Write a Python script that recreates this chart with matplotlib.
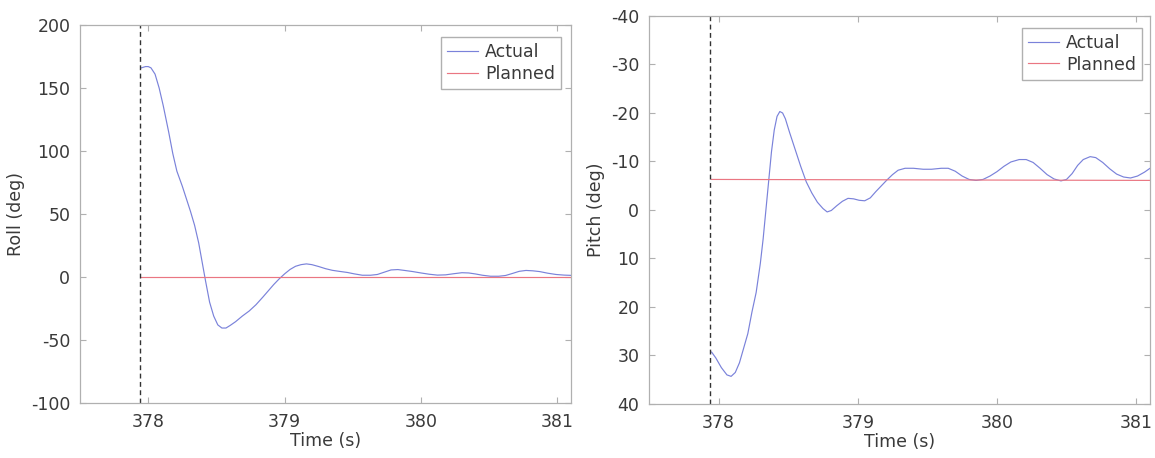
import matplotlib
matplotlib.use("Agg")
import matplotlib.pyplot as plt

# roll response (deg) vs time (s)
roll_t = [377.95, 377.98, 378.00, 378.02, 378.05, 378.08, 378.11, 378.15, 378.18,
          378.21, 378.25, 378.28, 378.31, 378.34, 378.37, 378.40, 378.42, 378.45,
          378.48, 378.51, 378.54, 378.57, 378.60, 378.64, 378.69, 378.74, 378.79,
          378.84, 378.88, 378.92, 378.96, 379.00, 379.04, 379.08, 379.12, 379.16,
          379.20, 379.25, 379.30, 379.35, 379.40, 379.46, 379.51, 379.57, 379.63,
          379.68, 379.73, 379.78, 379.83, 379.88, 379.94, 380.00, 380.06, 380.12,
          380.18, 380.24, 380.30, 380.35, 380.40, 380.45, 380.51, 380.57, 380.62,
          380.67, 380.72, 380.77, 380.82, 380.87, 380.93, 380.99, 381.05, 381.10]
roll_v = [166, 167, 167, 166, 161, 150, 136, 115, 98,
          84, 72, 62, 52, 41, 27, 9, -3, -20,
          -31, -38, -40.5, -40.5, -38.5, -35.5, -31, -27, -22,
          -16, -11, -6, -1.5, 2.5, 6, 8.5, 9.8, 10.4,
          9.8, 8.3, 6.6, 5.3, 4.5, 3.6, 2.5, 1.4, 1.4,
          2, 3.8, 5.6, 5.9, 5.2, 4.3, 3.2, 2.2, 1.5,
          1.7, 2.6, 3.4, 3.2, 2.4, 1.4, 0.6, 0.6, 1.2,
          2.8, 4.5, 5.2, 4.9, 4.3, 3.0, 2.0, 1.5, 1.3]
roll_plan_t = [377.95, 381.1]
roll_plan_v = [0, 0]

# pitch response (deg)
pitch_t = [377.95, 377.98, 378.02, 378.06, 378.09, 378.12, 378.15, 378.18, 378.21,
           378.24, 378.27, 378.30, 378.32, 378.34, 378.36, 378.38, 378.40, 378.42,
           378.44, 378.46, 378.48, 378.51, 378.55, 378.59, 378.63, 378.67, 378.71,
           378.75, 378.78, 378.81, 378.85, 378.89, 378.93, 378.97, 379.01, 379.05,
           379.09, 379.13, 379.17, 379.21, 379.25, 379.29, 379.34, 379.40, 379.47,
           379.53, 379.60, 379.65, 379.70, 379.75, 379.80, 379.85, 379.90, 379.95,
           380.00, 380.05, 380.10, 380.16, 380.21, 380.26, 380.31, 380.36, 380.41,
           380.46, 380.50, 380.54, 380.58, 380.62, 380.67, 380.71, 380.76, 380.81,
           380.86, 380.91, 380.96, 381.01, 381.06, 381.11]
pitch_v = [29.3, 30.5, 32.5, 34, 34.3, 33.5, 31.5, 28.5, 25.5,
           21, 17, 11, 6, 0, -6, -12, -16.5, -19.3,
           -20.3, -20, -18.8, -16, -12.5, -9, -5.8, -3.5, -1.6,
           -0.3, 0.4, 0.1, -0.9, -1.8, -2.4, -2.3, -2.0, -1.9,
           -2.5, -3.8, -5.0, -6.2, -7.3, -8.2, -8.6, -8.6, -8.4,
           -8.4, -8.6, -8.6, -8.0, -7.0, -6.3, -6.1, -6.3, -7.0,
           -7.9, -9.0, -9.9, -10.4, -10.4, -9.8, -8.6, -7.3, -6.4,
           -6.0, -6.3, -7.5, -9.2, -10.4, -11.0, -10.8, -9.8, -8.5,
           -7.4, -6.8, -6.6, -7.0, -7.8, -8.8]
pitch_plan_t = [377.95, 381.11]
pitch_plan_v = [-6.3, -6.1]

t_start = 377.94
x_ticks = [378, 379, 380, 381]
roll_ticks = [-100, -50, 0, 50, 100, 150, 200]
pitch_ticks = [-40, -30, -20, -10, 0, 10, 20, 30, 40]

plt.rcParams['font.family'] = ['DejaVu Sans']
plt.rcParams['font.size'] = 12.5
plt.rcParams['axes.unicode_minus'] = False

txt = '#3a3a3a'
edge = '#b0b0b0'
blue = '#7a82da'
red = '#ea7682'

fig = plt.figure(figsize=(11.55, 4.58), dpi=100)
ax1 = fig.add_axes([0.0693, 0.1201, 0.4251, 0.8253])
ax2 = fig.add_axes([0.5619, 0.1179, 0.4338, 0.8472])


def style(ax):
    for s in ax.spines.values():
        s.set_color(edge)
        s.set_linewidth(0.9)
    ax.tick_params(direction='in', top=True, right=True, colors=edge,
                   labelcolor=txt, length=4, width=0.8, pad=7)
    ax.set_xlim(377.5, 381.1)
    ax.set_xticks(x_ticks)
    ax.set_xticklabels([str(x) for x in x_ticks])
    ax.set_xlabel('Time (s)', color=txt, labelpad=1)


def add_legend(ax, anchor):
    ax.legend(loc='upper right', bbox_to_anchor=anchor, borderaxespad=0,
              fancybox=False, edgecolor=edge, handlelength=1.8, labelcolor=txt,
              borderpad=0.35, labelspacing=0.2, handletextpad=0.4, framealpha=1)


ax1.plot(roll_t, roll_v, color=blue, lw=0.85, label='Actual')
ax1.plot(roll_plan_t, roll_plan_v, color=red, lw=0.85, label='Planned')
ax1.axvline(t_start, color='#333333', lw=1.0, ls=(0, (3.5, 2.5)))
ax1.set_ylim(-100, 200)
ax1.set_yticks(roll_ticks)
ax1.set_ylabel('Roll (deg)', color=txt, labelpad=4)
style(ax1)
add_legend(ax1, (0.98, 0.968))

ax2.plot(pitch_t, pitch_v, color=blue, lw=0.85, label='Actual')
ax2.plot(pitch_plan_t, pitch_plan_v, color=red, lw=0.85, label='Planned')
ax2.axvline(t_start, color='#333333', lw=1.0, ls=(0, (3.5, 2.5)))
ax2.set_ylim(40, -40)
ax2.set_yticks(pitch_ticks)
ax2.set_ylabel('Pitch (deg)', color=txt, labelpad=4)
style(ax2)
add_legend(ax2, (0.984, 0.969))

fig.savefig('out.png', dpi=100)
